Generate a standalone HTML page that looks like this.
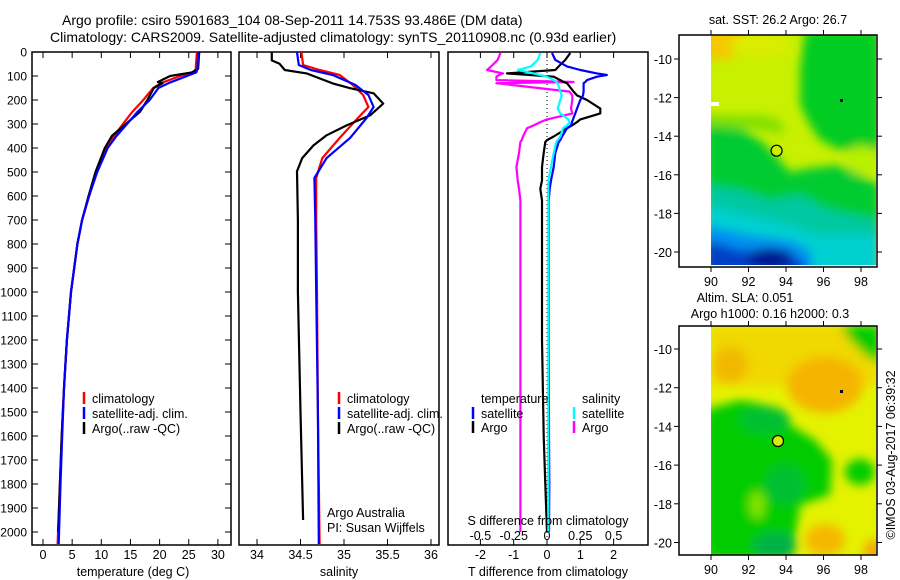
<!DOCTYPE html>
<html><head><meta charset="utf-8">
<style>
html,body{margin:0;padding:0;background:#fff;}
svg{display:block;font-family:"Liberation Sans",sans-serif;}
text{font-size:12.5px;fill:#000;}
text.dl{font-size:12px;}
</style></head>
<body>
<svg id="chart" width="900" height="580" viewBox="0 0 900 580" xmlns="http://www.w3.org/2000/svg">
<defs>
<filter id="blur" x="-10%" y="-10%" width="120%" height="120%"><feGaussianBlur stdDeviation="5"/></filter>
<clipPath id="clipMap1"><rect x="711" y="35" width="165" height="230"/></clipPath>
<clipPath id="clipMap2"><rect x="711" y="326" width="165" height="229"/></clipPath>
</defs>
<text x="62" y="25" style="font-size:14px">Argo profile: csiro 5901683_104 08-Sep-2011 14.753S 93.486E (DM data)</text>
<text x="50" y="42" style="font-size:14px">Climatology: CARS2009. Satellite-adjusted climatology: synTS_20110908.nc (0.93d earlier)</text>

<g>
<text x="778" y="24" text-anchor="middle">sat. SST: 26.2 Argo: 26.7</text>
<g clip-path="url(#clipMap1)">
<rect x="711" y="35" width="165" height="230" fill="#c8f000"/>
<g filter="url(#blur)">
<ellipse cx="720" cy="40" rx="25" ry="20" fill="#f5c800"/>
<ellipse cx="760" cy="45" rx="30" ry="12" fill="#dcec00"/>
<polygon points="805,30 880,30 880,150 860,150 840,150 820,140 810,125 800,105 800,70" fill="#00cc20"/>
<ellipse cx="862" cy="160" rx="16" ry="14" fill="#b8f000"/>
<polygon points="705,125 740,128 760,140 775,155 790,172 810,168 840,165 880,185 880,280 705,280" fill="#00cc30"/>
<polygon points="705,125 760,130 785,135 780,120 760,115 705,115" fill="#80e000"/>
<polygon points="705,185 740,190 770,200 800,195 830,210 880,220 880,280 705,280" fill="#00c8a0"/>
<polygon points="705,205 750,215 790,225 820,235 880,235 880,280 705,280" fill="#00d0d0"/>
<polygon points="705,225 750,235 790,240 810,250 815,280 705,280" fill="#0090f0"/>
<polygon points="705,240 740,250 790,252 805,265 805,280 705,280" fill="#0040c8"/>
<ellipse cx="770" cy="258" rx="22" ry="10" fill="#001890"/>
</g>
<rect x="711" y="102" width="8" height="4" fill="#fff"/>
</g>
<rect x="679" y="35" width="198" height="232" fill="none" stroke="#000" stroke-width="1.5"/>
<circle cx="776.6" cy="150.7" r="5.5" fill="#c8f000" stroke="#000" stroke-width="1.2"/>
<rect x="840" y="99" width="3" height="3" fill="#000"/>
<g id="map1axes"></g>
</g>

<g>
<text x="745" y="302" text-anchor="middle">Altim. SLA: 0.051</text>
<text x="770" y="318" text-anchor="middle">Argo h1000: 0.16 h2000: 0.3</text>
<g clip-path="url(#clipMap2)">
<rect x="711" y="326" width="165" height="229" fill="#e4f200"/>
<g filter="url(#blur)">
<rect x="711" y="326" width="165" height="60" fill="#f0d800"/>
<ellipse cx="730" cy="365" rx="18" ry="18" fill="#f2b800"/>
<ellipse cx="825" cy="385" rx="38" ry="28" fill="#f5b400"/>
<polygon points="840,325 880,325 880,365 865,355 850,340" fill="#00cc00"/>
<polygon points="705,410 740,400 765,405 790,425 815,440 832,460 830,495 800,505 792,560 705,560" fill="#00cc00"/>
<ellipse cx="765" cy="420" rx="25" ry="14" fill="#00c030"/>
<ellipse cx="785" cy="485" rx="20" ry="20" fill="#00c030"/>
<ellipse cx="860" cy="472" rx="15" ry="13" fill="#00cc00"/>
<ellipse cx="757" cy="505" rx="8" ry="14" fill="#80e400"/>
<ellipse cx="775" cy="545" rx="22" ry="12" fill="#00b048"/>
<ellipse cx="825" cy="540" rx="20" ry="16" fill="#f5b800"/>
<ellipse cx="875" cy="550" rx="12" ry="10" fill="#f5a800"/>
</g>
</g>
<rect x="679" y="326" width="198" height="229" fill="none" stroke="#000" stroke-width="1.5"/>
<circle cx="778" cy="441" r="5.5" fill="#d8f000" stroke="#000" stroke-width="1.2"/>
<rect x="840" y="390" width="3" height="3" fill="#000"/>
<g id="map2axes"></g>
</g>
<text transform="translate(895,455) rotate(-90)" text-anchor="middle">©IMOS 03-Aug-2017 06:39:32</text>

<g id="panels"></g>
</svg>
<script>
const tDepth = [0,70,85,100,130,150,200,250,300,350,400,500,600,700,800,1000,1200,1400,1600,1800,2050];
const tClim  = [26.4,26.2,25.9,23.5,20.2,18.9,17.2,15.3,13.7,12.2,10.9,9.2,7.9,6.7,5.9,4.8,4.1,3.6,3.2,2.9,2.5];
const tSat   = [26.6,26.5,26.3,24.7,21.5,19.8,18.3,16.2,14.4,12.6,11.1,9.3,7.9,6.7,5.9,4.8,4.1,3.6,3.3,3.0,2.7];
const tArgoDepth = [0,70,85,95,100,125,130,150,200,250,300,350,400,500,600,700,800,1000,1200,1400,1600,1800,2000];
const tArgo  = [26.8,26.6,25.5,23,21.8,19.7,20.5,19.0,17.9,16.6,14.2,11.8,10.6,9.0,7.8,6.7,5.9,4.8,4.1,3.6,3.2,2.9,2.6];

const sDepth = [0,54,75,96,137,179,229,275,358,442,525,700,1000,1500,2050];
const sClim  = [34.51,34.53,34.72,34.95,35.10,35.22,35.28,35.16,34.95,34.75,34.68,34.68,34.69,34.70,34.72];
const sSat   = [34.46,34.48,34.62,34.87,35.13,35.28,35.34,35.26,35.07,34.80,34.66,34.67,34.68,34.70,34.71];
const sArgoDepth = [0,35,49,75,89,110,131,151,172,215,264,306,347,389,442,497,700,1000,1500,1950];
const sArgo  = [34.17,34.17,34.26,34.32,34.57,34.72,34.87,35.07,35.34,35.45,35.30,35.03,34.80,34.65,34.52,34.46,34.47,34.47,34.50,34.53];

const dDepth = [4,33,60,75,89,96,103,117,125,130,165,181,200,236,256,281,292,306,318,352,367,375,421,479,535,570,618,800,1200,1600,1800,2000];
const dTSat  = [0.15,0.25,0.6,1.0,1.5,1.8,1.5,1.2,1.15,1.1,1.1,1.08,1.0,0.9,0.85,0.78,0.75,0.72,0.6,0.45,0.4,0.35,0.25,0.2,0.12,0.08,0.05,0.05,0.05,0.06,0.07,0.06];
const dTArgo = [0.7,0.55,0.35,0.25,-1.2,-0.5,0.2,0.4,0.5,0.6,0.8,0.9,1.2,1.6,1.6,1.0,0.9,0.75,0.6,0.2,0.0,-0.05,-0.1,-0.15,-0.15,-0.2,-0.15,-0.15,-0.15,-0.1,-0.05,0.0];
const dSSat  = [-0.05,-0.07,-0.12,-0.22,-0.1,-0.05,0.0,0.05,0.07,0.08,0.1,0.11,0.1,0.08,0.1,0.16,0.17,0.15,0.12,0.1,0.08,0.07,0.05,0.03,0.01,0.01,0.01,0.01,0.01,0.01,0.01,0.01];
const dSArgo = [-0.35,-0.37,-0.42,-0.45,-0.33,-0.36,-0.38,-0.38,0.2,-0.38,0.17,0.19,0.19,0.18,0.19,0.0,-0.05,-0.1,-0.15,-0.18,-0.19,-0.2,-0.21,-0.23,-0.22,-0.21,-0.2,-0.2,-0.2,-0.2,-0.2,-0.2];

const depthTicks = [0,100,200,300,400,500,600,700,800,900,1000,1100,1200,1300,1400,1500,1600,1700,1800,1900,2000];
const tempTicks = [0,5,10,15,20,25,30];
const salTicks = [34,34.5,35,35.5,36];
const tDiffTicks = [-2,-1,0,1,2];
const sDiffTicks = [-0.5,-0.25,0,0.25,0.5];
const lonTicks = [90,92,94,96,98];
const latTicks = [-10,-12,-14,-16,-18,-20];

const Y0 = 52, YB = 545;
const yD = d => Y0 + d * 0.24;
const xT = t => 43 + t * 5.83;
const xS = s => 257 + (s - 34) * 87;
const xTd = v => 547 + v * 33.3;
const xSd = v => 547 + v * 133.2;
const xLon = l => 711 + (l - 90) * 18.75;
const yLat1 = l => 59 + (-10 - l) * 19.3;
const yLat2 = l => 349 + (-10 - l) * 19.35;

const NS = 'http://www.w3.org/2000/svg';
const root = document.getElementById('panels');
function mk(tag, attrs, parent, text) {
  const e = document.createElementNS(NS, tag);
  for (const k in attrs) e.setAttribute(k, attrs[k]);
  if (text !== undefined) e.textContent = text;
  (parent || root).appendChild(e);
  return e;
}
function line(depths, vals, xs, color, name, w) {
  let pts = [];
  for (let i = 0; i < vals.length; i++) pts.push(xs(vals[i]).toFixed(1) + ',' + yD(depths[i]).toFixed(1));
  const p = mk('polyline', {points: pts.join(' '), fill: 'none', stroke: color, 'stroke-width': w || 2.2, 'stroke-linejoin': 'round'});
  
  
}
function frame(x0, x1, name) {
  const r = mk('rect', {x: x0, y: Y0, width: x1 - x0, height: YB - Y0, fill: 'none', stroke: '#000', 'stroke-width': 1.5});
  
  
}
function xticks(ticks, xs, x0, x1, labelY, name) {
  ticks.forEach(t => {
    const x = xs(t);
    mk('line', {x1: x, x2: x, y1: Y0, y2: Y0 + 6, stroke: '#000'});
    mk('line', {x1: x, x2: x, y1: YB, y2: YB - 6, stroke: '#000'});
    if (labelY) {
      const tx = mk('text', {x: x, y: labelY, 'text-anchor': 'middle'}, root, String(t));
      
      
    }
  });
}
function legend(x, y, color, label, name) {
  mk('line', {x1: x, x2: x, y1: y - 11, y2: y + 1, stroke: color, 'stroke-width': 2.5});
  const t = mk('text', {x: x + 8, y: y}, root, label);
  
  
}

frame(32, 231, 'temperature-panel-frame');
depthTicks.forEach(d => {
  const y = yD(d);
  mk('line', {x1: 32, x2: 38, y1: y, y2: y, stroke: '#000'});
  mk('line', {x1: 231, x2: 225, y1: y, y2: y, stroke: '#000'});
  const t = mk('text', {x: 27, y: y + 4.5, 'text-anchor': 'end', 'class': 'dl'}, root, String(d));
  
  
});
xticks(tempTicks, xT, 32, 231, 559, 'temperature-tick-label');
let tl = mk('text', {x: 133, y: 576, 'text-anchor': 'middle'}, root, 'temperature (deg C)');


line(tDepth, tClim, xT, '#ff0000', 'temperature-climatology-line');
line(tArgoDepth, tArgo, xT, '#000000', 'temperature-argo-line');
line(tDepth, tSat, xT, '#0000ff', 'temperature-satellite-line');
legend(84, 403, '#ff0000', 'climatology', 'legend-climatology');
legend(84, 418, '#0000ff', 'satellite-adj. clim.', 'legend-satellite');
legend(84, 433, '#000000', 'Argo(..raw -QC)', 'legend-argo');

frame(239, 439, 'salinity-panel-frame');
xticks(salTicks, xS, 239, 439, 559, 'salinity-tick-label');
tl = mk('text', {x: 339, y: 576, 'text-anchor': 'middle'}, root, 'salinity');


line(sDepth, sClim, xS, '#ff0000', 'salinity-climatology-line');
line(sArgoDepth, sArgo, xS, '#000000', 'salinity-argo-line');
line(sDepth, sSat, xS, '#0000ff', 'salinity-satellite-line');
legend(339, 403, '#ff0000', 'climatology', 'legend-climatology-2');
legend(339, 418, '#0000ff', 'satellite-adj. clim.', 'legend-satellite-2');
legend(339, 433, '#000000', 'Argo(..raw -QC)', 'legend-argo-2');
tl = mk('text', {x: 327, y: 517}, root, 'Argo Australia');


tl = mk('text', {x: 327, y: 532}, root, 'PI: Susan Wijffels');



frame(448, 648, 'difference-panel-frame');
xticks(tDiffTicks, xTd, 448, 648, 0, 'tdiff-tick');
mk('line', {x1: 547, x2: 547, y1: Y0, y2: YB, stroke: '#000', 'stroke-dasharray': '1,3'});
line(dDepth, dSArgo, xSd, '#ff00ff', 'salinity-argo-diff-line');
line(dDepth, dTArgo, xTd, '#000000', 'temperature-argo-diff-line');
line(dDepth, dTSat, xTd, '#0000ff', 'temperature-satellite-diff-line');
line(dDepth, dSSat, xSd, '#00ffff', 'salinity-satellite-diff-line');
tl = mk('text', {x: 481, y: 403}, root, 'temperature');


tl = mk('text', {x: 582, y: 403}, root, 'salinity');


legend(473, 418, '#0000ff', 'satellite', 'legend-t-satellite');
legend(473, 432, '#000000', 'Argo', 'legend-t-argo');
legend(574, 418, '#00ffff', 'satellite', 'legend-s-satellite');
legend(574, 432, '#ff00ff', 'Argo', 'legend-s-argo');
tl = mk('text', {x: 548, y: 525, 'text-anchor': 'middle'}, root, 'S difference from climatology');


sDiffTicks.forEach(v => {
  const t = mk('text', {x: xSd(v), y: 540, 'text-anchor': 'middle'}, root, String(v));
  
  
});
tDiffTicks.forEach(v => {
  const t = mk('text', {x: xTd(v), y: 559, 'text-anchor': 'middle'}, root, String(v));
  
  
});
tl = mk('text', {x: 548, y: 576, 'text-anchor': 'middle'}, root, 'T difference from climatology');



function mapAxes(gid, top, bottom, yLat) {
  const g = document.getElementById(gid);
  lonTicks.forEach(l => {
    const x = xLon(l);
    mk('line', {x1: x, x2: x, y1: top, y2: top - 5, stroke: '#000'}, g);
    mk('line', {x1: x, x2: x, y1: bottom, y2: bottom + 5, stroke: '#000'}, g);
    const t = mk('text', {x: x, y: bottom + 19, 'text-anchor': 'middle'}, g, String(l));
    
    
  });
  latTicks.forEach(l => {
    const y = yLat(l);
    mk('line', {x1: 679, x2: 674, y1: y, y2: y, stroke: '#000'}, g);
    mk('line', {x1: 877, x2: 882, y1: y, y2: y, stroke: '#000'}, g);
    const t = mk('text', {x: 672, y: y + 5, 'text-anchor': 'end'}, g, String(l));
    
    
  });
}
mapAxes('map1axes', 35, 267, yLat1);
mapAxes('map2axes', 326, 555, yLat2);
</script>
</body></html>
